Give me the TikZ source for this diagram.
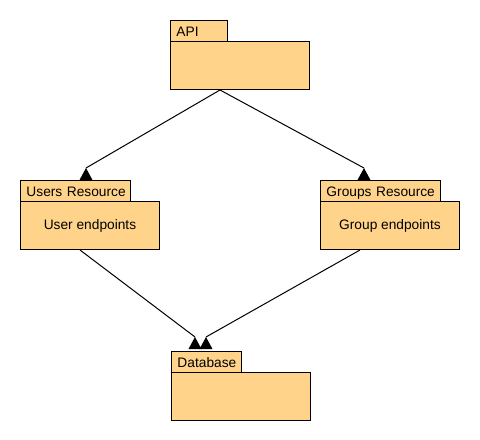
\documentclass[tikz,border=0pt]{standalone}
\usepackage{fontspec}
\setmainfont{Liberation Sans}
\usetikzlibrary{calc}
\definecolor{pkgfill}{RGB}{255,211,138}
\begin{document}
\begin{tikzpicture}[x=0.75pt,y=-0.75pt,
  pkgfont/.style={font=\fontsize{10.3}{12}\selectfont},
  tabbox/.style={draw=black,fill=pkgfill,line width=0.75pt,anchor=north west,
    inner xsep=4.5pt,inner ysep=0pt,minimum height=15.75pt,
    text height=9.5pt,text depth=1pt,align=left,pkgfont},
  bodybox/.style={draw=black,fill=pkgfill,line width=0.75pt,anchor=north west,
    inner sep=0pt,minimum width=104.25pt,minimum height=36pt,pkgfont},
  conn/.style={draw=black,line width=0.75pt},
  uphead/.pic={\fill[black] (-6.5,0) -- (0,-12) -- (6.5,0) -- cycle;}
]
\useasboundingbox (0,0) rectangle (480,440);

% API
\node[bodybox] (apibody) at (170,41) {};
\node[tabbox,text width=33.75pt] (apitab) at (170,20) {\mbox{API}};

% Users Resource
\node[bodybox] (userbody) at (20,201) {User endpoints};
\node[tabbox,text width=73.5pt] (usertab) at (20,180) {\mbox{Users Resource}};

% Groups Resource
\node[bodybox] (groupbody) at (320,201) {Group endpoints};
\node[tabbox,text width=81pt] (grouptab) at (320,180) {\mbox{Groups Resource}};

% Database
\node[bodybox] (dbbody) at (171,372) {};
\node[tabbox,text width=43.5pt] (dbtab) at (171,351) {\mbox{Database}};

% connector end points
\coordinate (apiout) at ($(apibody.south west)+(50,0)$);
\coordinate (userout) at ($(userbody.south west)+(60,0)$);
\coordinate (groupout) at ($(groupbody.south west)+(40,0)$);
\coordinate (tipU) at ($(usertab.north west)+(66,0)$);
\coordinate (tipG) at ($(grouptab.north west)+(44,0)$);
\coordinate (tipD1) at ($(dbtab.north west)+(24,-2)$);
\coordinate (tipD2) at ($(dbtab.north west)+(35,-2)$);

% connectors
\draw[conn] (apiout) -- ($(tipU)+(0,-12)$);
\pic at (tipU) {uphead};
\draw[conn] (apiout) -- ($(tipG)+(0,-12)$);
\pic at (tipG) {uphead};
\draw[conn] (userout) -- ($(tipD1)+(0,-12)$);
\pic at (tipD1) {uphead};
\draw[conn] (groupout) -- ($(tipD2)+(0,-12)$);
\pic at (tipD2) {uphead};
\end{tikzpicture}
\end{document}
